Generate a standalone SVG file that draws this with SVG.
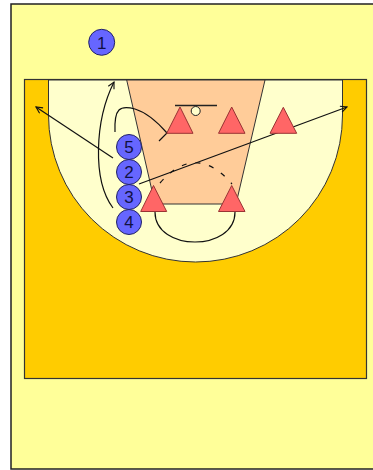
<svg xmlns="http://www.w3.org/2000/svg" width="373" height="470" viewBox="0 0 373 470">
<defs>
<style>
.line{fill:none;stroke:#111;stroke-width:1.2}
.dash{fill:none;stroke:#111;stroke-width:1.2;stroke-dasharray:5 9}
.off circle{fill:#6666ff;stroke:#222266;stroke-width:1}
.off text{font-family:"Liberation Sans",Arial,sans-serif;font-size:17px;fill:#111144;text-anchor:middle}
.def polygon{fill:#ff6666;stroke:#993333;stroke-width:1}
</style>
<marker id="arr" viewBox="0 0 10 10" refX="9" refY="5" markerWidth="8" markerHeight="8" orient="auto" markerUnits="userSpaceOnUse">
<path d="M1,1 L9,5 L1,9" fill="none" stroke="#111" stroke-width="1.4"/>
</marker>
</defs>
<g id="court">
<rect x="11" y="4" width="370" height="465" fill="#ffff99" stroke="#222" stroke-width="1.5"/>
<rect x="24.5" y="79.5" width="342" height="299" fill="#ffcc00" stroke="#333" stroke-width="1.2"/>
<path d="M48.5,80 L48.5,115 A147,147 0 0 0 342.5,115 L342.5,80 Z" fill="#ffffcc" stroke="#333" stroke-width="1"/>
<polygon points="126.7,80 265,80 236,204 155,204" fill="#ffcc99" stroke="#333" stroke-width="1"/>
<line x1="175" y1="105.5" x2="217" y2="105.5" stroke="#222" stroke-width="1.3"/>
<circle cx="195.7" cy="111" r="4.5" fill="#ffffcc" stroke="#222" stroke-width="1"/>
</g>
<g id="connectors">
<path class="line" d="M113,208 C92,180 95,120 114,82" marker-end="url(#arr)"/>
<path class="line" d="M115,132 C114,108 120,105 135,109 C148,113 160,125 167,133 L159,141"/>
<path class="line" d="M113,158 L36,107" marker-end="url(#arr)"/>
<path class="line" d="M139,184 L347,107" marker-end="url(#arr)"/>
<path class="dash" d="M160,183 Q196,142 232,184"/>
<path class="line" d="M155,212 C155,252 235,252 235,212"/>
</g>
<g id="d1" class="def"><polygon points="180,107 166.7,133.3 193,133.3"/></g>
<g id="d2" class="def"><polygon points="231.7,107 218.5,133.3 245,133.3"/></g>
<g id="d3" class="def"><polygon points="283.3,107.3 270,133.3 296.7,133.3"/></g>
<g id="d4" class="def"><polygon points="153.5,185.5 140.7,211.5 166.7,211.5"/></g>
<g id="d5" class="def"><polygon points="231.7,185.5 218.5,211.5 245,211.5"/></g>
<g id="p1" class="off"><circle cx="101.7" cy="42.3" r="13"/><text x="101.7" y="48.5">1</text></g>
<g id="p5" class="off"><circle cx="129" cy="147" r="12.5"/><text x="129" y="153">5</text></g>
<g id="p2" class="off"><circle cx="129" cy="172" r="12.5"/><text x="129" y="178">2</text></g>
<g id="p3" class="off"><circle cx="129" cy="197" r="12.5"/><text x="129" y="203">3</text></g>
<g id="p4" class="off"><circle cx="129" cy="222" r="12.5"/><text x="129" y="228">4</text></g>
</svg>
